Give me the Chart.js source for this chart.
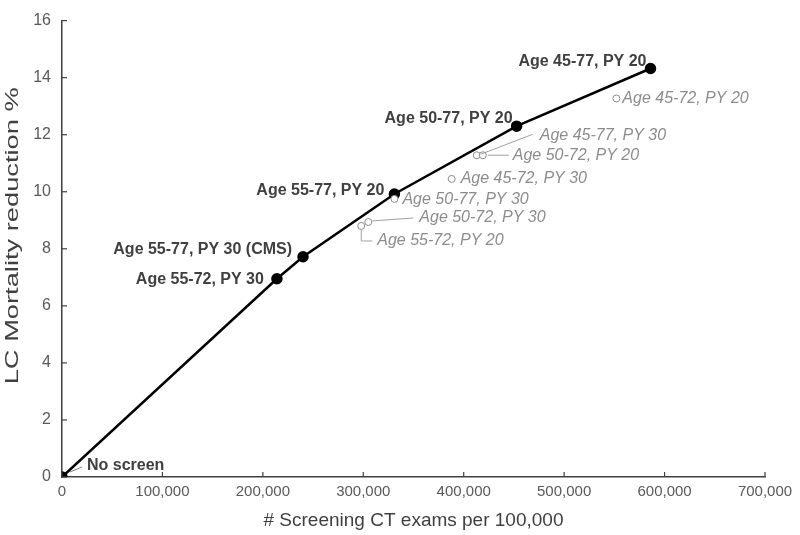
<!DOCTYPE html>
<html>
<head>
<meta charset="utf-8">
<script src="https://cdn.jsdelivr.net/npm/chart.js@4"></script>
<style>
html,body{margin:0;padding:0;background:#fff;}
#wrap{width:800px;height:535px;position:relative;}
</style>
</head>
<body>
<div id="wrap"><canvas id="c" width="800" height="535"></canvas></div>
<script>
// ---- data ----
const frontierLabels = ["No screen","Age 55-72, PY 30","Age 55-77, PY 30 (CMS)","Age 55-77, PY 20","Age 50-77, PY 20","Age 45-77, PY 20"];
const frontierExams  = [0, 214000, 240000, 331000, 452700, 586000];
const frontierReduction = [0, 6.95, 7.72, 9.92, 12.3, 14.32];

const otherLabels = ["Age 45-72, PY 20","Age 45-77, PY 30","Age 50-72, PY 20","Age 45-72, PY 30","Age 50-77, PY 30","Age 50-72, PY 30","Age 55-72, PY 20"];
const otherExams  = [552000, 413000, 419000, 388000, 331000, 305000, 298000];
const otherReduction = [13.27, 11.28, 11.28, 10.45, 9.75, 8.94, 8.8];

const xTicks = [0,100000,200000,300000,400000,500000,600000,700000];
const yTicks = [0,2,4,6,8,10,12,14,16];
const xTitle = '# Screening CT exams per 100,000';
const yTitle = 'LC Mortality reduction %';

// ---- label placement (style only) ----
// [dx, dy, align, leader]  leader: null | array of [dx,dy] offsets from point
const frontierPlace = [
  [25,-11,'left',[[8,-5],[20,-10]]],
  [-13,1,'right',null],
  [-11,-7,'right',null],
  [-10,-3,'right',null],
  [-4,-8,'right',null],
  [-4,-7,'right',null]
];
const otherPlace = [
  [6,0,'left',null],
  [63,-20,'left',[[4,-1],[56,-21]]],
  [30,0,'left',[[5,0],[26,0]]],
  [9,0,'left',null],
  [8,1,'left',null],
  [51,-4,'left',[[4,-1],[45,-4]]],
  [16,15,'left',[[0,4],[0,15],[11,15]]]
];

const labelPlugin = {
  id:'labels',
  afterDatasetsDraw(chart){
    const ctx = chart.ctx;
    const xs = chart.scales.x, ys = chart.scales.y;
    ctx.save();
    // inward ticks
    ctx.strokeStyle = '#404040'; ctx.lineWidth = 1.2;
    xTicks.forEach(v=>{ const px = xs.getPixelForValue(v); ctx.beginPath(); ctx.moveTo(px, ys.bottom); ctx.lineTo(px, ys.bottom-5); ctx.stroke(); });
    yTicks.forEach(v=>{ const py = ys.getPixelForValue(v); ctx.beginPath(); ctx.moveTo(xs.left, py); ctx.lineTo(xs.left+5, py); ctx.stroke(); });

    // y title (stretched along its length like the reference)
    ctx.save();
    ctx.font = '18px "Liberation Sans", Arial, sans-serif';
    ctx.fillStyle = '#404040';
    ctx.textAlign = 'center'; ctx.textBaseline = 'middle';
    const w = ctx.measureText(yTitle).width;
    ctx.translate(13, (ys.top+ys.bottom)/2 - 13);
    ctx.rotate(-Math.PI/2);
    ctx.scale(297/w, 1);
    ctx.fillText(yTitle, 0, 0);
    ctx.restore();

    ctx.textBaseline = 'middle';
    function draw(labels, X, Y, place, font, color, lineColor){
      labels.forEach((t,i)=>{
        const px = xs.getPixelForValue(X[i]), py = ys.getPixelForValue(Y[i]);
        const p = place[i];
        if (p[3]) {
          ctx.strokeStyle = lineColor; ctx.lineWidth = 1;
          ctx.beginPath();
          p[3].forEach((o,k)=>{ if(k===0) ctx.moveTo(px+o[0], py+o[1]); else ctx.lineTo(px+o[0], py+o[1]); });
          ctx.stroke();
        }
        ctx.font = font; ctx.fillStyle = color; ctx.textAlign = p[2];
        ctx.fillText(t, px+p[0], py+p[1]);
      });
    }
    draw(frontierLabels, frontierExams, frontierReduction, frontierPlace, 'bold 16px "Liberation Sans", Arial, sans-serif', '#404040', '#808080');
    draw(otherLabels, otherExams, otherReduction, otherPlace, 'italic 16px "Liberation Sans", Arial, sans-serif', '#8c8c8c', '#a0a0a0');
    ctx.restore();
  }
};

new Chart(document.getElementById('c'), {
  type:'scatter',
  data:{
    datasets:[
      {
        label:'Other',
        data: otherExams.map((x,i)=>({x:x, y:otherReduction[i]})),
        showLine:false,
        pointRadius:3.5,
        pointBackgroundColor:'#ffffff',
        pointBorderColor:'#8c8c8c',
        pointBorderWidth:1
      },
      {
        label:'Efficient',
        data: frontierExams.map((x,i)=>({x:x, y:frontierReduction[i]})),
        showLine:true,
        borderColor:'#000000',
        borderWidth:2.5,
        tension:0,
        pointRadius:4.5,
        pointBackgroundColor:'#000000',
        pointBorderColor:'#000000'
      }
    ]
  },
  options:{
    responsive:false,
    animation:false,
    layout:{padding:{top:19,right:35,left:0,bottom:0}},
    plugins:{legend:{display:false},tooltip:{enabled:false}},
    scales:{
      x:{
        type:'linear', min:0, max:700000,
        afterBuildTicks(s){ s.ticks = xTicks.map(v=>({value:v})); },
        afterFit(s){ s.height = 58; },
        grid:{drawOnChartArea:false, drawTicks:false},
        border:{color:'#404040', width:1.5},
        ticks:{padding:6, color:'#595959', font:{family:'"Liberation Sans", Arial, sans-serif', size:15},
          callback:v=>v.toLocaleString('en-US'), maxRotation:0},
        title:{display:true, text:xTitle, color:'#404040',
          font:{family:'"Liberation Sans", Arial, sans-serif', size:19}, padding:{top:0,bottom:3}}
      },
      y:{
        type:'linear', min:0, max:16,
        afterBuildTicks(s){ s.ticks = yTicks.map(v=>({value:v})); },
        afterFit(s){ s.width = 62; },
        grid:{drawOnChartArea:false, drawTicks:false},
        border:{color:'#404040', width:1.5},
        ticks:{padding:11, color:'#595959', font:{family:'"Liberation Sans", Arial, sans-serif', size:16}},
        title:{display:false}
      }
    }
  },
  plugins:[labelPlugin]
});
</script>
</body>
</html>
